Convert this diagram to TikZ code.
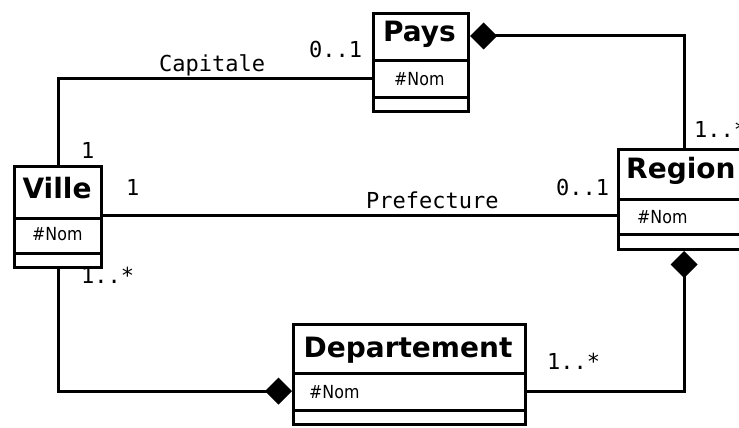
\documentclass[tikz,border=0pt]{standalone}
\usepackage{fontspec}
\setmainfont{DejaVu Sans}
\newfontfamily\condfont{DejaVu Sans}[FakeStretch=0.88]
\newfontfamily\monofont{DejaVu Sans Mono}
\usetikzlibrary{arrows.meta}
\tikzset{
  box/.style={draw, line width=3pt, anchor=north west, inner sep=0pt},
  sep/.style={line width=3pt},
  conn/.style={line width=3pt},
  title/.style={inner sep=0pt, font=\fontsize{28}{30}\selectfont\bfseries},
  attr/.style={inner sep=0pt, anchor=base west, font=\condfont\fontsize{18}{20}\selectfont},
  lbl/.style={inner sep=0pt, anchor=base west, font=\monofont\fontsize{22}{24}\selectfont},
  comp/.tip={Diamond[fill=black, length=27pt 0 0, width=27pt 0 0]}
}
\begin{document}
\begin{tikzpicture}[x=1pt,y=-1pt]
\useasboundingbox (0,0) rectangle (739,428);
\clip (0,0) rectangle (739,428);
\fill[white] (0,0) rectangle (739,428);

% boxes
\node[box, minimum width=95pt, minimum height=98pt] (pays) at (372,12) {};
\node[box, minimum width=126pt, minimum height=100pt] (region) at (617,148) {};
\node[box, minimum width=87pt, minimum height=101pt] (ville) at (13,165) {};
\node[box, minimum width=232pt, minimum height=100pt] (dept) at (292,323) {};

% separators
\draw[sep] (pays.west |- 0,61) -- (pays.east |- 0,61);
\draw[sep] (pays.west |- 0,97) -- (pays.east |- 0,97);
\draw[sep] (region.west |- 0,199) -- (region.east |- 0,199);
\draw[sep] (region.west |- 0,234) -- (region.east |- 0,234);
\draw[sep] (ville.west |- 0,218) -- (ville.east |- 0,218);
\draw[sep] (ville.west |- 0,253) -- (ville.east |- 0,253);
\draw[sep] (dept.west |- 0,373) -- (dept.east |- 0,373);
\draw[sep] (dept.west |- 0,410) -- (dept.east |- 0,410);

% titles
\node[title, anchor=base] (paysT) at (419.5,42) {Pays};
\node[title, anchor=base west] (regionT) at (626,178) {Region};
\node[title, anchor=base] (villeT) at (57,198) {Ville};
\node[title, anchor=base] (deptT) at (408,357) {Departement};

% attributes
\node[attr] (paysA) at (394,85) {\#Nom};
\node[attr] (regionA) at (637,223) {\#Nom};
\node[attr] (villeA) at (32,240) {\#Nom};
\node[attr] (deptA) at (309,398) {\#Nom};

% connectors
\coordinate (capA) at (58,79);
\draw[conn] (ville.north -| capA) -- (capA) -- (pays.west |- capA);

\coordinate (pr) at (684,36);
\draw[conn, comp-] (pays.east |- pr) -- (pr) -- (region.north -| pr);

\coordinate (pf) at (0,215);
\draw[conn] (ville.east |- pf) -- (region.west |- pf);

\coordinate (rd) at (684,391);
\draw[conn, comp-] (region.south -| rd) -- (rd) -- (dept.east |- rd);

\coordinate (vd) at (58,391);
\draw[conn, -comp] (ville.south -| vd) -- (vd) -- (dept.west |- vd);

% labels
\node[lbl] (lCap) at (159,71) {Capitale};
\node[lbl] (lPays01) at (309,58) {0..1};
\node[lbl] (lV1a) at (81,158) {1};
\node[lbl] (lV1b) at (126,195) {1};
\node[lbl] (lV1n) at (81,283) {1..*};
\node[lbl] (lPref) at (366,208) {Prefecture};
\node[lbl] (lReg01) at (556,195) {0..1};
\node[lbl] (lReg1n) at (694,137) {1..*};
\node[lbl] (lDep1n) at (547,369) {1..*};
\end{tikzpicture}
\end{document}
